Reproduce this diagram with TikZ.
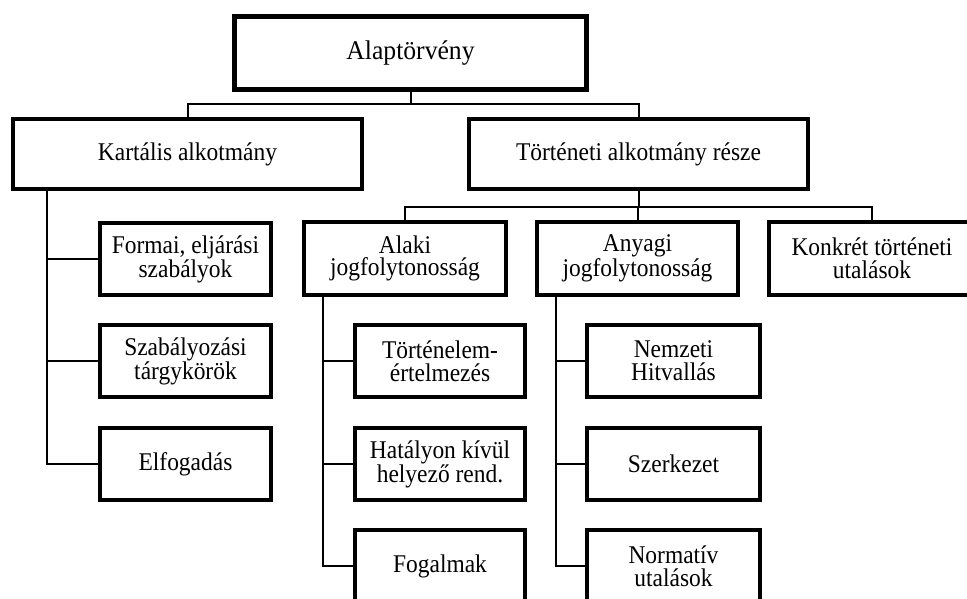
\documentclass[tikz,border=0pt]{standalone}
\usepackage{fontspec}
\setmainfont{Liberation Serif}
\newfontfamily\boxfont[FakeStretch=0.92]{Liberation Serif}
\newfontfamily\topfont[FakeStretch=0.95]{Liberation Serif}
\begin{document}
\begin{tikzpicture}[x=1pt,y=-1pt,
  box/.style={draw=black, line width=4pt, rectangle, align=center, inner sep=0pt,
    font=\boxfont\fontsize{25.5}{22.7}\selectfont},
  conn/.style={draw=black, line width=2pt}]
\useasboundingbox (0,0) rectangle (967,598);
\clip (0,0) rectangle (967,598);
% top
\node[box, line width=5pt, minimum width=352pt, minimum height=73pt,
  font=\topfont\fontsize{27}{24}\selectfont] (alap) at (410.5,53) {Alaptörvény};
\node[box, minimum width=349pt, minimum height=70pt] (kart) at (187.5,154) {Kartális alkotmány};
\node[box, minimum width=339pt, minimum height=70pt] (tort) at (638.5,154) {Történeti alkotmány része};
% left column
\node[box, minimum width=171pt, minimum height=72pt] (formai) at (185.5,259) {Formai, eljárási\\szabályok};
\node[box, minimum width=171pt, minimum height=72pt] (szab) at (185.5,361) {Szabályozási\\tárgykörök};
\node[box, minimum width=171pt, minimum height=72pt] (elf) at (185.5,464) {Elfogadás};
% second level
\node[box, minimum width=202pt, minimum height=73pt] (alaki) at (405,258.5) {Alaki\\jogfolytonosság};
\node[box, minimum width=201pt, minimum height=73pt] (anyagi) at (637.5,258.5) {Anyagi\\jogfolytonosság};
\node[box, minimum width=206pt, minimum height=73pt] (konkret) at (872,258.5) {Konkrét történeti\\utalások};
% alaki children
\node[box, minimum width=170pt, minimum height=72pt] (tortenelem) at (440,361) {Történelem-\\értelmezés};
\node[box, minimum width=170pt, minimum height=72pt] (hatalyon) at (440,464) {Hatályon kívül\\helyező rend.};
\node[box, minimum width=170pt, minimum height=72pt] (fogalmak) at (440,566) {Fogalmak};
% anyagi children
\node[box, minimum width=173pt, minimum height=72pt] (nemzeti) at (673.5,361) {Nemzeti\\Hitvallás};
\node[box, minimum width=173pt, minimum height=72pt] (szerk) at (673.5,464) {Szerkezet};
\node[box, minimum width=173pt, minimum height=72pt] (norm) at (673.5,566) {Normatív\\utalások};
% helper coordinates
\coordinate (h1) at (0,104);
\coordinate (h2) at (0,207);
\coordinate (k1) at (47,0);
\coordinate (k2) at (323,0);
\coordinate (k3) at (556,0);
% connectors
\draw[conn] (alap.south) -- (alap.south |- h1) -| (kart.north);
\draw[conn] (alap.south |- h1) -| (tort.north);
\draw[conn] (tort.south) -- (tort.south |- h2) -| (alaki.north);
\draw[conn] (tort.south |- h2) -| (anyagi.north);
\draw[conn] (tort.south |- h2) -| (konkret.north);
\draw[conn] (kart.south -| k1) |- (formai.west);
\draw[conn] (kart.south -| k1) |- (szab.west);
\draw[conn] (kart.south -| k1) |- (elf.west);
\draw[conn] (alaki.south -| k2) |- (tortenelem.west);
\draw[conn] (alaki.south -| k2) |- (hatalyon.west);
\draw[conn] (alaki.south -| k2) |- (fogalmak.west);
\draw[conn] (anyagi.south -| k3) |- (nemzeti.west);
\draw[conn] (anyagi.south -| k3) |- (szerk.west);
\draw[conn] (anyagi.south -| k3) |- (norm.west);
\end{tikzpicture}
\end{document}
